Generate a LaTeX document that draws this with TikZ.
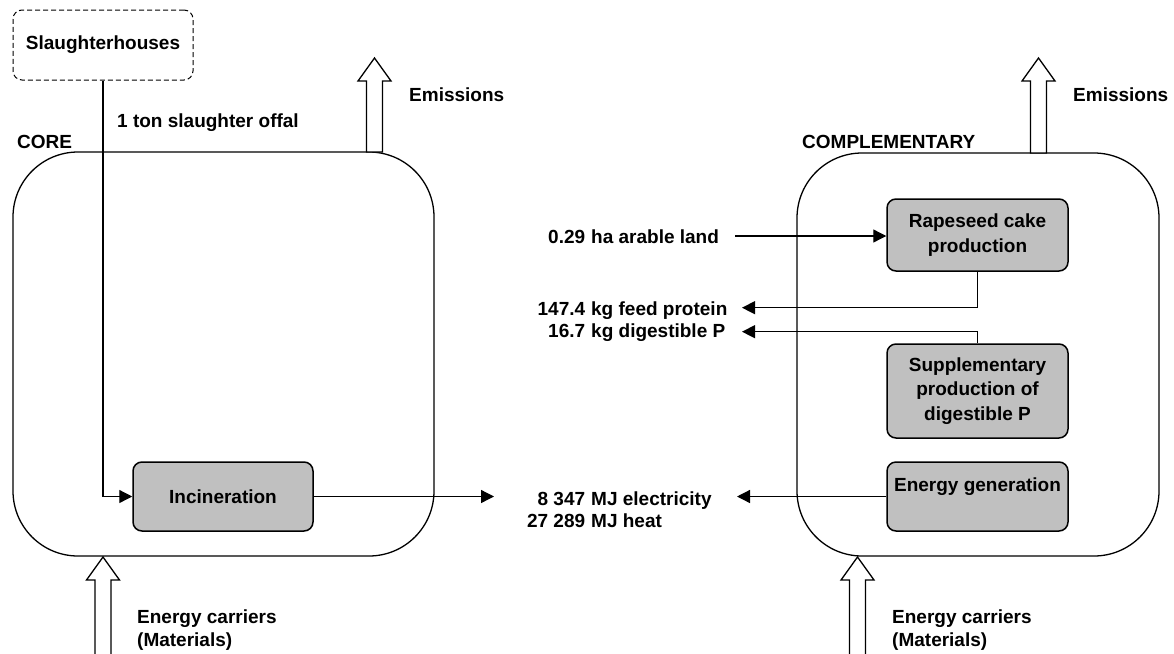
\documentclass[tikz,border=0pt]{standalone}
\usepackage{fontspec}
\setmainfont{Liberation Sans}
\usepackage{xcolor}
\definecolor{boxgray}{RGB}{192,192,192}
\usepackage{tikz}
\usetikzlibrary{arrows.meta, positioning, calc}

% number right-aligned, unit on a common tab
\newcommand{\flowqty}[2]{\makebox[60pt][r]{#1}\hspace{6pt}#2}
% hollow upward arrow: tip point, shaft length
\newcommand{\fatup}[2]{%
  \draw[fat] #1 -- ++(16.5,23) -- ++(-8.5,0) -- ++(0,#2) -- ++(-16,0)
             -- ++(0,-#2) -- ++(-8.5,0) -- cycle;}

\begin{document}
\begin{tikzpicture}[
    x=1pt, y=-1pt,
    lbl/.style ={font=\fontsize{19}{22.5}\selectfont\bfseries,
                 inner sep=0pt, align=left},
    proc/.style ={rectangle, rounded corners=9pt, draw, line width=1.5pt,
                 fill=boxgray, minimum width=181pt, minimum height=70pt,
                 align=center, font=\fontsize{19}{24.5}\selectfont\bfseries},
    source/.style ={rectangle, rounded corners=9pt, draw, line width=1pt,
                 dash pattern=on 5pt off 3pt,
                 minimum width=180pt, minimum height=70pt,
                 font=\fontsize{19}{24.5}\selectfont\bfseries},
    system/.style ={rectangle, rounded corners=65pt, draw, line width=1.3pt},
    flow/.style ={-{Triangle[length=13pt,width=13pt]}, line width=1.3pt},
    fat/.style ={draw, fill=white, line width=1.3pt}
]
\useasboundingbox (0,0) rectangle (1174,653);

%% --- system boundaries ---
\node[system, minimum width=421pt, minimum height=404pt] (core) at (223.5,354) {};
\node[system, minimum width=362pt, minimum height=403pt] (comp) at (978,354.5) {};
\node[lbl, anchor=base west] (corelbl) at (17,148) {CORE};
\node[lbl, anchor=base west] (complbl) at (802,148) {COMPLEMENTARY};

%% --- processes ---
\node[source] (slaughter) at (103,45) {Slaughterhouses};
\node[proc, minimum width=180pt, minimum height=69pt] (incin) at (223,496.5) {Incineration};
\node[proc, minimum height=72pt] (rape) at (977.5,235) {Rapeseed cake\\production};
\node[proc, minimum height=94pt] (supp) at (977.5,391) {Supplementary\\production of\\digestible P};
\node[proc, minimum height=69pt] (energy) at (977.5,496.5) {Energy generation\\~};

%% --- flow labels ---
\node[lbl, anchor=base west] (offal) at (117,127) {1 ton slaughter offal};
\node[lbl, anchor=base west] (land) at (525,243) {\flowqty{0.29}{ha arable land}};
\node[lbl, anchor=base west] (feed) at (525,315) {\flowqty{147.4}{kg feed protein}};
\node[lbl, anchor=base west] (digp) at (525,337.3) {\flowqty{16.7}{kg digestible P}};
\node[lbl, anchor=base west] (elec) at (525,505) {\flowqty{8 347}{MJ electricity}};
\node[lbl, anchor=base west] (heat) at (525,527.7) {\flowqty{27 289}{MJ heat}};

%% --- emissions and energy carriers ---
\fatup{(374.5,58)}{71}
\fatup{(1038.5,58)}{72}
\fatup{(103,557)}{76}
\fatup{(857.5,557)}{76}
\node[lbl, anchor=base west] (emcore) at (409,101) {Emissions};
\node[lbl, anchor=base west] (emcomp) at (1073,101) {Emissions};
\node[lbl, anchor=north west] (ecore) at (137,610) {Energy carriers\\(Materials)};
\node[lbl, anchor=north west] (ecomp) at (892,610) {Energy carriers\\(Materials)};

%% --- free ends of the connectors ---
\coordinate (landtail) at (735,236);
\coordinate (feedtip) at (742,307.7);
\coordinate (digtip) at (742,331.7);
\coordinate (incout) at (494,496.5);
\coordinate (elecin) at (737,496.5);

%% --- connectors ---
\draw[flow] (slaughter.south) |- (incin.west);
\draw[flow] (incin.east) -- (incout);
\draw[flow] (energy.west) -- (elecin);
\draw[flow] (landtail) -- (landtail -| rape.west);
\draw[flow] (rape.south) |- (feedtip);
\draw[flow] (supp.north) |- (digtip);
\end{tikzpicture}
\end{document}
